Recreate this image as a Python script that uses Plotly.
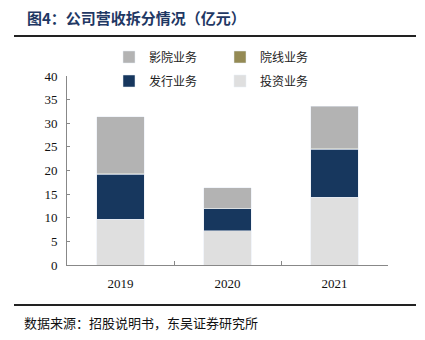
import plotly.graph_objects as go

years = ["2019", "2020", "2021"]
invest = [9.7, 7.3, 14.3]        # 投资业务
distrib = [9.5, 4.6, 10.2]       # 发行业务
theater_line = [0.2, 0.15, 0.2]  # 院线业务
cinema = [12.0, 4.35, 8.9]       # 影院业务

CJK = "Noto Sans CJK SC"
SERIF = "Liberation Serif"

fig = go.Figure()
fig.add_trace(go.Bar(x=years, y=invest, name="投资业务", marker_color="#DFDFDF",
                     legend="legend2", legendrank=2))
fig.add_trace(go.Bar(x=years, y=distrib, name="发行业务", marker_color="#17375E",
                     legend="legend2", legendrank=1))
fig.add_trace(go.Bar(x=years, y=theater_line, name="院线业务", marker_color="#948A54",
                     legend="legend", legendrank=2))
fig.add_trace(go.Bar(x=years, y=cinema, name="影院业务", marker_color="#B3B3B3",
                     legend="legend", legendrank=1))

legend_common = dict(orientation="h", xref="container", yref="container",
                     xanchor="left", yanchor="middle", x=109/425,
                     font=dict(family=CJK, size=12, color="#222"),
                     entrywidth=66, entrywidthmode="pixels",
                     bgcolor="rgba(0,0,0,0)", itemclick=False,
                     traceorder="normal", tracegroupgap=0)

fig.update_layout(
    width=425, height=340,
    margin=dict(l=67, r=37, t=76, b=75, autoexpand=False),
    paper_bgcolor="white", plot_bgcolor="white",
    barmode="stack", bargap=0.56,
    showlegend=True,
    legend=dict(**legend_common, y=1-57/340),
    legend2=dict(**legend_common, y=1-81/340),
    xaxis=dict(type="category", showline=True, linecolor="#888", linewidth=1,
               ticks="inside", tickson="boundaries", ticklen=4, tickcolor="#888",
               ticklabelstandoff=6,
               tickfont=dict(family=SERIF, size=13, color="#111"), showgrid=False),
    yaxis=dict(range=[0, 40], dtick=5, showline=True, linecolor="#888", linewidth=1,
               ticks="inside", ticklen=3, tickcolor="#888", showgrid=False, zeroline=False,
               ticklabelstandoff=6,
               tickfont=dict(family=SERIF, size=13, color="#111")),
    font=dict(family=CJK),
)

fig.add_annotation(text="<b>图4：公司营收拆分情况（亿元）</b>", xref="paper", yref="paper",
                   x=(25-67)/321, y=1+(76-18)/189, xanchor="left", yanchor="middle",
                   showarrow=False, font=dict(family=CJK, size=15, color="#1F3864"))
fig.add_annotation(text="数据来源：招股说明书，东吴证券研究所", xref="paper", yref="paper",
                   x=(22-67)/321, y=-(322-265)/189, xanchor="left", yanchor="middle",
                   showarrow=False, font=dict(family=CJK, size=13, color="#111"))

fig.add_shape(type="line", xref="paper", yref="paper",
              x0=(14-67)/321, x1=(416-67)/321, y0=1+(76-36)/189, y1=1+(76-36)/189,
              line=dict(color="#222", width=2))
fig.add_shape(type="line", xref="paper", yref="paper",
              x0=(14-67)/321, x1=(416-67)/321, y0=-(305-265)/189, y1=-(305-265)/189,
              line=dict(color="#222", width=2))

fig.write_html("out.html")
